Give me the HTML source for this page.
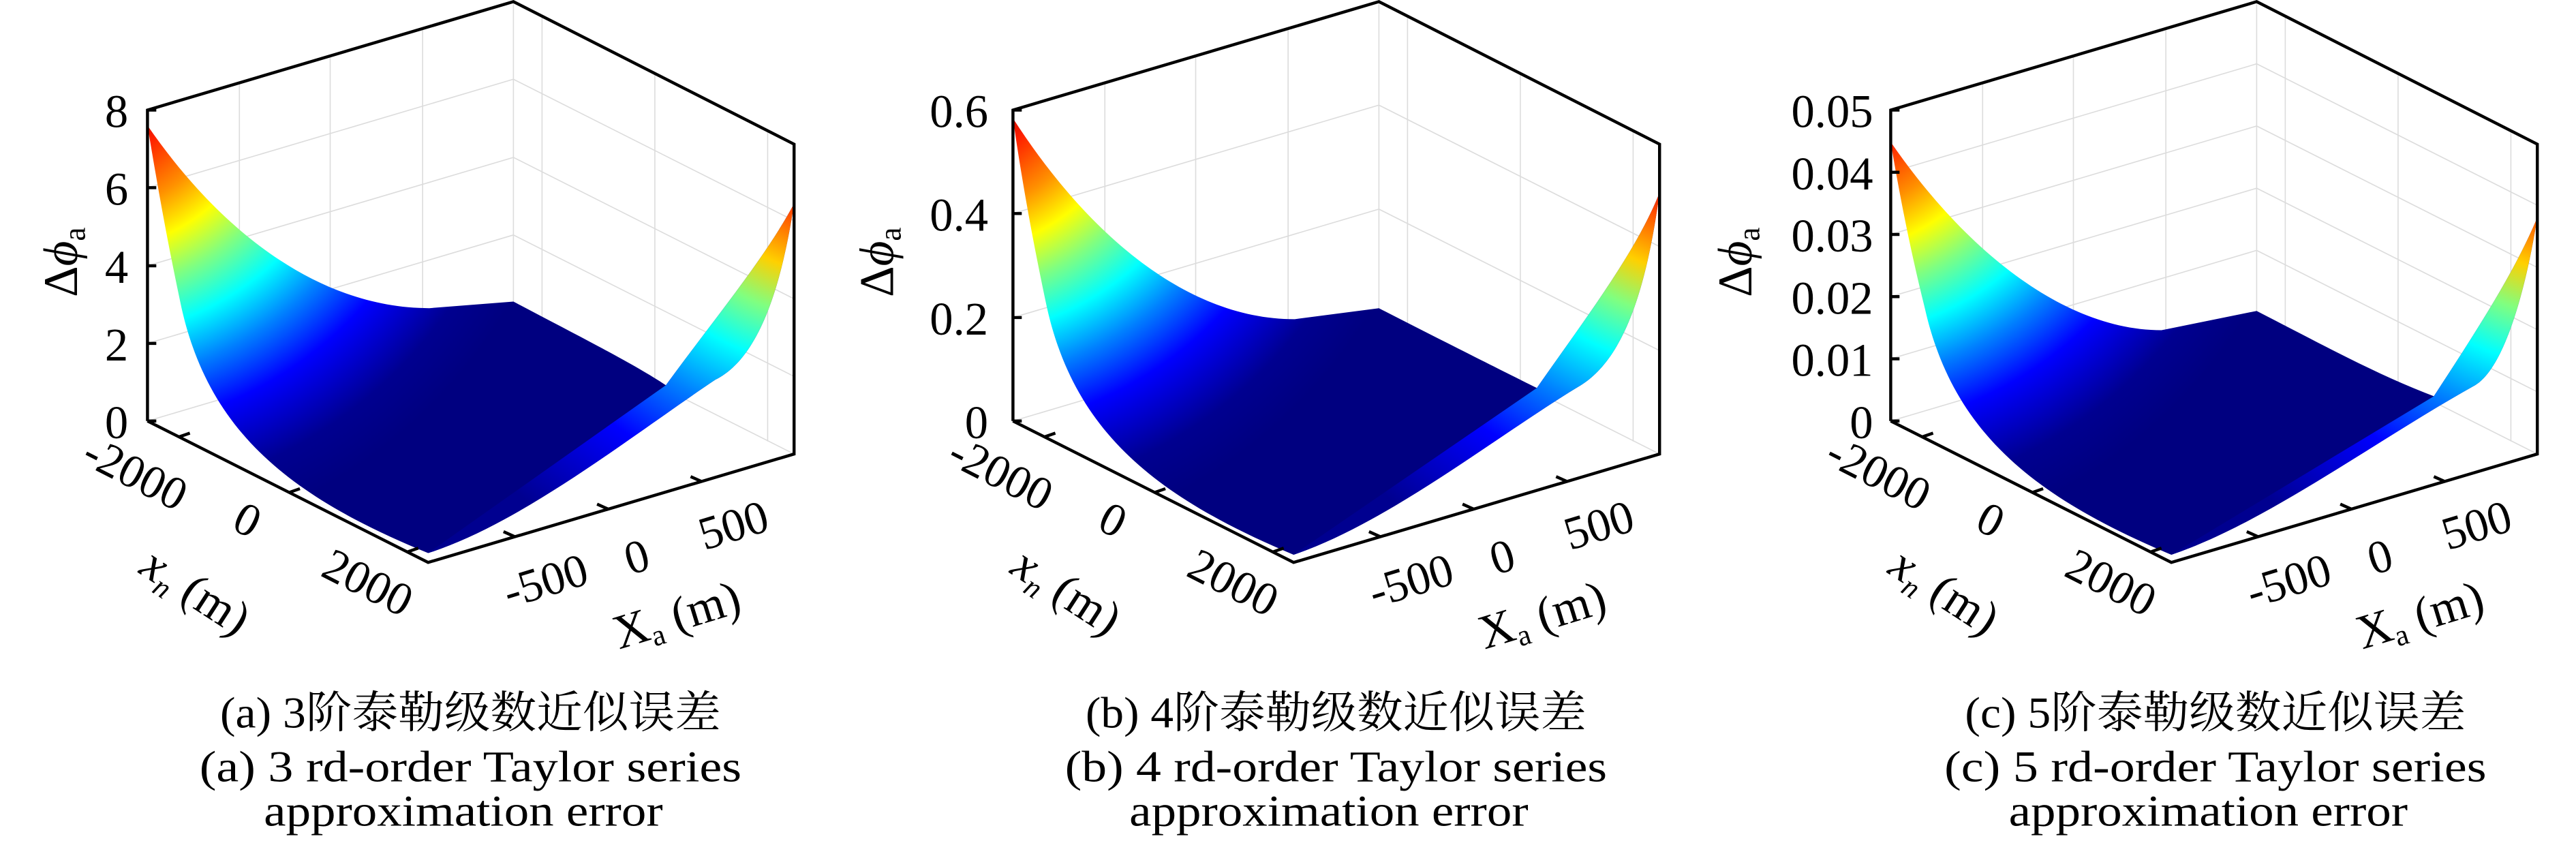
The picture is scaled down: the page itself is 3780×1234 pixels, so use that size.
<!DOCTYPE html>
<html><head><meta charset="utf-8"><style>
html,body{margin:0;padding:0;background:#fff;width:3780px;height:1234px;overflow:hidden}
svg text{font-family:"Liberation Serif","Noto Serif CJK SC",serif;fill:#000}
</style></head><body>
<svg width="3780" height="1234" viewBox="0 0 3780 1234" xmlns="http://www.w3.org/2000/svg">
<defs>
<radialGradient id="gl" gradientUnits="userSpaceOnUse" cx="150" cy="100" r="900">
<stop offset="0.15" stop-color="#b00000"/><stop offset="0.22" stop-color="#ff2000"/>
<stop offset="0.32" stop-color="#ff9000"/><stop offset="0.40" stop-color="#ffff00"/>
<stop offset="0.48" stop-color="#80ff80"/><stop offset="0.57" stop-color="#00ffff"/>
<stop offset="0.66" stop-color="#0080ff"/><stop offset="0.76" stop-color="#0000ff"/>
<stop offset="0.90" stop-color="#000090"/><stop offset="1" stop-color="#000080"/>
</radialGradient>
<radialGradient id="gr" gradientUnits="userSpaceOnUse" cx="1500" cy="250" r="900">
<stop offset="0.10" stop-color="#d00000"/><stop offset="0.17" stop-color="#ff5000"/>
<stop offset="0.27" stop-color="#ffd000"/><stop offset="0.36" stop-color="#80ff80"/>
<stop offset="0.46" stop-color="#00ffff"/><stop offset="0.58" stop-color="#0080ff"/>
<stop offset="0.72" stop-color="#0000ff"/><stop offset="0.95" stop-color="#000090"/>
</radialGradient>
</defs>

<g transform="translate(0,0) scale(0.8075)">
<g stroke="#dcdcdc" stroke-width="2" fill="none">
<path d="M268,765L933,568L1443,825M268,624L933,427L1443,684M268,483L933,286L1443,543M268,341L933,144L1443,401"/>
<path d="M435,150V715M600,102V667M768,52V617M933,3V568M985,29V594M1190,133V698M1395,237V802"/>
</g>
<path fill="url(#gl)" d="M268,228C400,420 580,560 780,560L933,548C1050,610 1150,660 1210,700C1290,590 1390,470 1443,370C1420,520 1380,650 1300,690C1150,790 950,950 778,1005C520,900 380,780 330,560C300,420 280,300 268,228Z"/>
<path fill="url(#gr)" d="M1443,370C1390,470 1290,590 1210,700L778,1005C950,950 1150,790 1300,690C1380,650 1420,520 1443,370Z"/>
<g stroke="#000" stroke-width="5.5" fill="none">
<path d="M268,765V200L933,3L1443,262V825L778,1022L268,765"/>
<path d="M268,624h16M268,483h16M268,341h16M268,765h16M268,200h16"/>
<path d="M325,794l20,-7M525,895l20,-7M740,1003l20,-7M935,975l-20,-9M1105,925l-20,-9M1275,875l-20,-9"/>
</g>
<g font-size="85" text-anchor="end">
<text x="233" y="796">0</text><text x="233" y="655">2</text><text x="233" y="514">4</text><text x="233" y="372">6</text><text x="233" y="231">8</text>
</g>
<text font-size="88" transform="translate(140,540) rotate(-90)">Δ<tspan font-style="italic">ϕ</tspan><tspan font-size="56" dy="14">a</tspan></text>
<g font-size="85">
<text transform="translate(145,840) rotate(27)">-2000</text>
<text transform="translate(418,960) rotate(27)">0</text>
<text transform="translate(580,1045) rotate(27)">2000</text>
<text transform="translate(925,1105) rotate(-17)">-500</text>
<text transform="translate(1145,1045) rotate(-17)">0</text>
<text transform="translate(1280,1000) rotate(-17)">500</text>
</g>
<text font-size="88" transform="translate(250,1040) rotate(33)"><tspan font-style="italic">x</tspan><tspan font-size="54" font-style="italic" dy="16">n</tspan><tspan dy="-16"> (m)</tspan></text>
<text font-size="88" transform="translate(1125,1180) rotate(-17)">X<tspan font-size="54" dy="14">a</tspan><tspan dy="-14"> (m)</tspan></text>
<g font-size="80" text-anchor="middle">
<text x="855" y="1322" textLength="910" lengthAdjust="spacingAndGlyphs">(a) 3阶泰勒级数近似误差</text>
<text x="855" y="1420" textLength="985" lengthAdjust="spacingAndGlyphs">(a) 3 rd-order Taylor series</text>
<text x="842" y="1500" textLength="725" lengthAdjust="spacingAndGlyphs">approximation error</text>
</g>
</g>

<g transform="translate(1270,0) scale(0.8075)">
<g stroke="#dcdcdc" stroke-width="2" fill="none">
<path d="M268,765L933,568L1443,825M268,577L933,380L1443,637M268,388L933,191L1443,448"/>
<path d="M435,150V715M600,102V667M768,52V617M933,3V568M985,29V594M1190,133V698M1395,237V802"/>
</g>
<path fill="url(#gl)" d="M268,215C400,420 580,580 780,580L933,560C1050,620 1150,670 1220,705C1300,590 1400,460 1443,350C1420,520 1380,650 1300,700C1150,790 950,950 778,1008C520,900 380,780 330,560C300,420 280,300 268,215Z"/>
<path fill="url(#gr)" d="M1443,350C1400,460 1300,590 1220,705L778,1008C950,950 1150,790 1300,700C1380,650 1420,520 1443,350Z"/>
<g stroke="#000" stroke-width="5.5" fill="none">
<path d="M268,765V200L933,3L1443,262V825L778,1022L268,765"/>
<path d="M268,577h16M268,388h16M268,765h16M268,200h16"/>
<path d="M325,794l20,-7M525,895l20,-7M740,1003l20,-7M935,975l-20,-9M1105,925l-20,-9M1275,875l-20,-9"/>
</g>
<g font-size="85" text-anchor="end">
<text x="223" y="796">0</text><text x="223" y="608">0.2</text><text x="223" y="419">0.4</text><text x="223" y="231">0.6</text>
</g>
<text font-size="88" transform="translate(50,540) rotate(-90)">Δ<tspan font-style="italic">ϕ</tspan><tspan font-size="56" dy="14">a</tspan></text>
<g font-size="85">
<text transform="translate(145,840) rotate(27)">-2000</text>
<text transform="translate(418,960) rotate(27)">0</text>
<text transform="translate(580,1045) rotate(27)">2000</text>
<text transform="translate(925,1105) rotate(-17)">-500</text>
<text transform="translate(1145,1045) rotate(-17)">0</text>
<text transform="translate(1280,1000) rotate(-17)">500</text>
</g>
<text font-size="88" transform="translate(260,1040) rotate(33)"><tspan font-style="italic">x</tspan><tspan font-size="54" font-style="italic" dy="16">n</tspan><tspan dy="-16"> (m)</tspan></text>
<text font-size="88" transform="translate(1125,1180) rotate(-17)">X<tspan font-size="54" dy="14">a</tspan><tspan dy="-14"> (m)</tspan></text>
<g font-size="80" text-anchor="middle">
<text x="855" y="1322" textLength="910" lengthAdjust="spacingAndGlyphs">(b) 4阶泰勒级数近似误差</text>
<text x="855" y="1420" textLength="985" lengthAdjust="spacingAndGlyphs">(b) 4 rd-order Taylor series</text>
<text x="842" y="1500" textLength="725" lengthAdjust="spacingAndGlyphs">approximation error</text>
</g>
</g>

<g transform="translate(2558,0) scale(0.8075)">
<g stroke="#dcdcdc" stroke-width="2" fill="none">
<path d="M268,765L933,568L1443,825M268,652L933,455L1443,712M268,539L933,342L1443,599M268,426L933,229L1443,486M268,313L933,116L1443,373"/>
<path d="M435,150V715M600,102V667M768,52V617M933,3V568M985,29V594M1190,133V698M1395,237V802"/>
</g>
<path fill="url(#gl)" d="M268,258C400,450 580,600 760,600L933,565C1050,625 1150,680 1255,720C1320,620 1400,500 1443,395C1420,540 1380,670 1330,700C1150,800 950,950 778,1008C520,900 380,780 330,560C300,440 280,330 268,258Z"/>
<path fill="url(#gr)" d="M1443,395C1400,500 1320,620 1255,720L778,1008C950,950 1150,800 1330,700C1380,670 1420,540 1443,395Z"/>
<g stroke="#000" stroke-width="5.5" fill="none">
<path d="M268,765V200L933,3L1443,262V825L778,1022L268,765"/>
<path d="M268,652h16M268,539h16M268,426h16M268,313h16M268,765h16M268,200h16"/>
<path d="M325,794l20,-7M525,895l20,-7M740,1003l20,-7M935,975l-20,-9M1105,925l-20,-9M1275,875l-20,-9"/>
</g>
<g font-size="85" text-anchor="end">
<text x="236" y="796">0</text><text x="236" y="683">0.01</text><text x="236" y="570">0.02</text><text x="236" y="457">0.03</text><text x="236" y="344">0.04</text><text x="236" y="231">0.05</text>
</g>
<text font-size="88" transform="translate(15,540) rotate(-90)">Δ<tspan font-style="italic">ϕ</tspan><tspan font-size="56" dy="14">a</tspan></text>
<g font-size="85">
<text transform="translate(145,840) rotate(27)">-2000</text>
<text transform="translate(418,960) rotate(27)">0</text>
<text transform="translate(580,1045) rotate(27)">2000</text>
<text transform="translate(925,1105) rotate(-17)">-500</text>
<text transform="translate(1145,1045) rotate(-17)">0</text>
<text transform="translate(1280,1000) rotate(-17)">500</text>
</g>
<text font-size="88" transform="translate(260,1040) rotate(33)"><tspan font-style="italic">x</tspan><tspan font-size="54" font-style="italic" dy="16">n</tspan><tspan dy="-16"> (m)</tspan></text>
<text font-size="88" transform="translate(1125,1180) rotate(-17)">X<tspan font-size="54" dy="14">a</tspan><tspan dy="-14"> (m)</tspan></text>
<g font-size="80" text-anchor="middle">
<text x="858" y="1322" textLength="910" lengthAdjust="spacingAndGlyphs">(c) 5阶泰勒级数近似误差</text>
<text x="858" y="1420" textLength="985" lengthAdjust="spacingAndGlyphs">(c) 5 rd-order Taylor series</text>
<text x="845" y="1500" textLength="725" lengthAdjust="spacingAndGlyphs">approximation error</text>
</g>
</g>
</svg>
</body></html>
